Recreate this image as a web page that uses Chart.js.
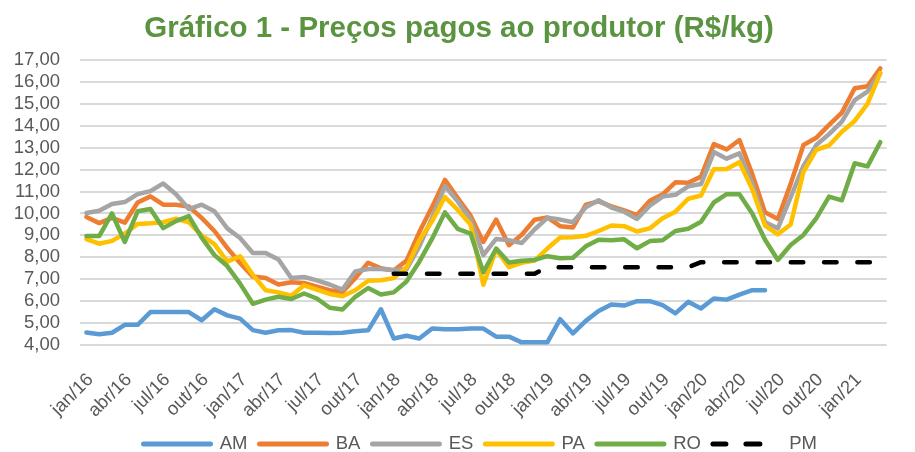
<!DOCTYPE html>
<html>
<head>
<meta charset="utf-8">
<script src="https://cdn.jsdelivr.net/npm/chart.js@4.4.0/dist/chart.umd.min.js"></script>
<style>
  html, body { margin: 0; padding: 0; overflow: hidden; background: #ffffff; }
  #wrap { width: 920px; height: 452px; }
</style>
</head>
<body>
<div id="wrap"><canvas id="c" width="920" height="452"></canvas></div>
<script>
const categories = [
  "jan/16","fev/16","mar/16","abr/16","mai/16","jun/16","jul/16","ago/16","set/16","out/16","nov/16","dez/16",
  "jan/17","fev/17","mar/17","abr/17","mai/17","jun/17","jul/17","ago/17","set/17","out/17","nov/17","dez/17",
  "jan/18","fev/18","mar/18","abr/18","mai/18","jun/18","jul/18","ago/18","set/18","out/18","nov/18","dez/18",
  "jan/19","fev/19","mar/19","abr/19","mai/19","jun/19","jul/19","ago/19","set/19","out/19","nov/19","dez/19",
  "jan/20","fev/20","mar/20","abr/20","mai/20","jun/20","jul/20","ago/20","set/20","out/20","nov/20","dez/20",
  "jan/21","fev/21","mar/21"
];

const seriesNames = ["AM", "BA", "ES", "PA", "RO", "PM"];

const AM = [4.57,4.49,4.56,4.92,4.92,5.50,5.50,5.50,5.50,5.13,
            5.63,5.35,5.20,4.68,4.56,4.67,4.68,4.56,4.56,4.55,
            4.56,4.63,4.67,5.63,4.30,4.42,4.30,4.75,4.72,4.72,
            4.75,4.75,4.38,4.38,4.12,4.12,4.12,5.18,4.53,5.10,
            5.55,5.85,5.80,6.00,6.00,5.82,5.44,5.97,5.67,6.12,
            6.07,6.30,6.50,6.50,null,null,null,null,null,null,
            null,null,null];

const BA = [9.84,9.56,9.80,9.58,10.50,10.78,10.40,10.40,10.32,9.80,
            9.20,8.43,7.74,7.12,7.06,6.76,6.86,6.83,6.66,6.50,
            6.42,7.05,7.75,7.50,7.40,7.85,9.15,10.30,11.53,10.70,
            9.90,8.70,9.72,8.55,9.03,9.71,9.82,9.42,9.36,10.40,
            10.55,10.32,10.14,9.93,10.58,10.87,11.42,11.40,11.68,13.16,
            12.92,13.35,11.80,10.05,9.75,11.35,13.12,13.45,14.04,14.60,
            15.71,15.80,16.62];

const ES = [10.02,10.12,10.43,10.52,10.88,11.02,11.37,10.88,10.20,10.40,
            10.10,9.32,8.88,8.20,8.20,7.90,7.06,7.10,6.95,6.76,
            6.53,7.36,7.47,7.47,7.42,7.45,8.50,9.80,11.25,10.55,
            9.72,8.10,8.84,8.78,8.65,9.27,9.80,9.72,9.60,10.28,
            10.60,10.27,10.08,9.75,10.35,10.77,10.85,11.24,11.34,12.80,
            12.50,12.74,11.37,9.60,9.32,10.74,12.17,13.12,13.62,14.19,
            15.17,15.56,16.40];

const PA = [8.83,8.62,8.75,9.08,9.52,9.55,9.60,9.76,9.60,9.00,
            8.60,7.80,8.05,7.20,6.50,6.40,6.25,6.72,6.53,6.33,
            6.22,6.50,6.93,6.95,7.05,7.53,8.78,9.65,10.75,10.16,
            9.50,6.75,8.35,7.55,7.75,7.85,8.40,8.90,8.92,8.98,
            9.20,9.45,9.42,9.18,9.32,9.78,10.08,10.67,10.82,12.02,
            12.03,12.34,11.10,9.45,9.05,9.50,11.90,12.90,13.10,13.73,
            14.22,15.00,16.40];

const RO = [8.97,8.97,10.00,8.70,10.10,10.20,9.33,9.65,9.88,8.90,
            8.10,7.60,6.80,5.88,6.07,6.20,6.10,6.35,6.12,5.70,
            5.62,6.20,6.60,6.30,6.40,6.90,7.80,8.85,10.05,9.30,
            9.08,7.32,8.40,7.76,7.84,7.88,8.05,7.96,7.98,8.50,
            8.80,8.78,8.82,8.41,8.74,8.78,9.20,9.30,9.62,10.50,
            10.88,10.88,10.00,8.80,7.88,8.56,9.02,9.78,10.77,10.60,
            12.29,12.15,13.25];

const PM = [null,null,null,null,null,null,null,null,null,null,
            null,null,null,null,null,null,null,null,null,null,
            null,null,null,null,7.25,7.25,7.25,7.25,7.25,7.25,
            7.25,7.25,7.25,7.25,7.25,7.25,7.55,7.55,7.55,7.55,
            7.55,7.55,7.55,7.55,7.55,7.55,7.55,7.55,7.78,7.78,
            7.78,7.78,7.78,7.78,7.78,7.78,7.78,7.78,7.78,7.78,
            7.78,7.78,7.78];

const yMin = 4, yMax = 17, yStep = 1;
const titleText = "Gráfico 1 - Preços pagos ao produtor (R$/kg)";

const FONT = "'Liberation Sans', Arial, sans-serif";
const TXT = "#595959";
const colors = { AM: "#5B9BD5", BA: "#ED7D31", ES: "#A5A5A5", PA: "#FFC000", RO: "#70AD47", PM: "#000000" };
const seriesData = { AM, BA, ES, PA, RO, PM };

const datasets = seriesNames.map((name, i) => ({
  label: name,
  data: seriesData[name],
  borderColor: colors[name],
  backgroundColor: colors[name],
  borderWidth: 4.5,
  borderDash: name === "PM" ? [12.5, 20.8] : [],
  borderCapStyle: "round",
  borderJoinStyle: "round",
  tension: 0,
  pointRadius: 0,
  fill: false,
  spanGaps: false,
  order: seriesNames.length - 1 - i
}));

const LEGEND_PAD = 12;
const LEGEND_FONT = 18.5;
const layoutPlugin = {
  id: "layoutTweak",
  afterLayout(chart) {
    const L = chart.legend;
    if (L) {
      const dy = 444 - (L.top + LEGEND_PAD + LEGEND_FONT / 2);
      L.top += dy; L.bottom += dy;
      L.left = 143.5 - LEGEND_PAD;
      L.right = 960;
    }
    // let rotated x labels extend below the axis box without being clipped
    const xs = chart.scales.x;
    if (xs) { xs.bottom = 452; }
  }
};

new Chart(document.getElementById("c"), {
  type: "line",
  data: { labels: categories, datasets },
  options: {
    responsive: false,
    animation: false,
    layout: { padding: { left: 0, right: 2, top: 0, bottom: 0 } },
    plugins: {
      title: {
        display: true,
        text: titleText,
        color: "#5A9440",
        font: { family: FONT, size: 29.5, weight: "bold" },
        padding: { top: 11, bottom: 13.6 }
      },
      legend: {
        position: "bottom",
        align: "start",
        labels: {
          usePointStyle: true,
          pointStyle: "line",
          pointStyleWidth: 67,
          padding: LEGEND_PAD,
          color: TXT,
          font: { family: FONT, size: LEGEND_FONT },
          generateLabels(chart) {
            return chart.data.datasets.map((ds, i) => ({
              text: ds.label,
              fillStyle: ds.borderColor,
              strokeStyle: ds.borderColor,
              fontColor: TXT,
              lineWidth: 5,
              lineCap: "round",
              lineDash: ds.label === "PM" ? [13, 20, 14, 100] : [],
              pointStyle: "line",
              hidden: false,
              datasetIndex: i
            }));
          }
        }
      },
      tooltip: { enabled: false }
    },
    scales: {
      x: {
        offset: true,
        grid: { display: false, drawTicks: false },
        border: { display: false },
        ticks: {
          autoSkip: false,
          maxRotation: 45,
          minRotation: 45,
          padding: 24,
          labelOffset: 4,
          color: TXT,
          font: { family: FONT, size: 18.5 },
          callback(value, index) { return index % 3 === 0 ? this.getLabelForValue(value) : ""; }
        },
        afterFit(scale) { scale.height = 66.5; }
      },
      y: {
        min: yMin,
        max: yMax,
        grid: { color: "#D9D9D9", lineWidth: 2, drawTicks: false },
        border: { display: false },
        ticks: {
          stepSize: yStep,
          autoSkip: false,
          padding: 20,
          color: TXT,
          font: { family: FONT, size: 18.5 },
          callback(v) { return Number(v).toFixed(2).replace(".", ","); }
        },
        afterFit(scale) { scale.width = 80; }
      }
    }
  },
  plugins: [layoutPlugin]
});
</script>
</body>
</html>
